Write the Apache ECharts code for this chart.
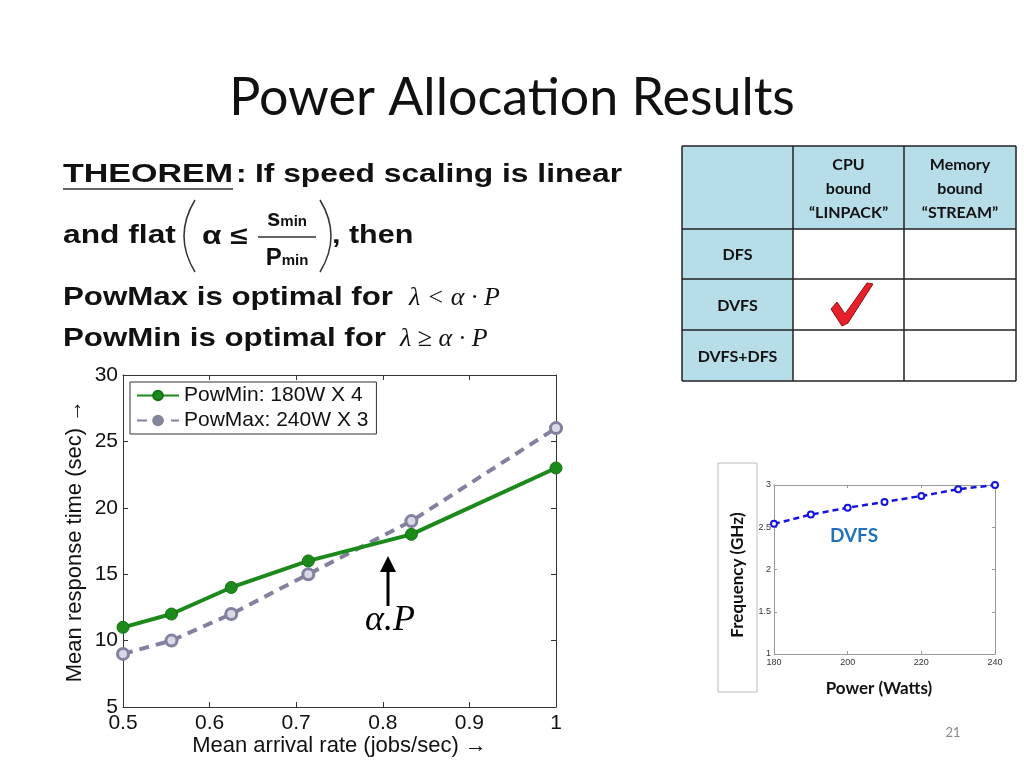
<!DOCTYPE html>
<html>
<head>
<meta charset="utf-8">
<title>Power Allocation Results</title>
<script src="https://cdn.jsdelivr.net/npm/echarts@6/dist/echarts.min.js"></script>
<style>
html,body{margin:0;padding:0;background:#fff;}
#slide{width:1024px;height:768px;}
</style>
</head>
<body>
<div id="slide"></div>
<script>
/* 主图：平均到达率 vs 平均响应时间 */
var arrivalRate = [0.5, 0.556, 0.625, 0.714, 0.833, 1.0];
var powMinTime = [11, 12, 14, 16, 18, 23];
var powMaxTime = [9, 10, 12, 15, 19, 26];
var seriesNames = ['PowMin: 180W X 4', 'PowMax: 240W X 3'];

/* 小图：功率 vs 频率 (DVFS) */
var powerWatts = [180, 190, 200, 210, 220, 230, 240];
var freqGHz = [2.54, 2.65, 2.73, 2.80, 2.87, 2.95, 3.0];

/* 表格 */
var tableCols = ['CPU\nbound\n\u201cLINPACK\u201d', 'Memory\nbound\n\u201cSTREAM\u201d'];
var tableRows = ['DFS', 'DVFS', 'DVFS+DFS'];

function pairs(xs, ys){
	var out = [];
	for (var i = 0; i < xs.length; i++) out.push([xs[i], ys[i]]);
	return out;
}

(function(){
	var myChart = echarts.init(document.getElementById('slide'));
	var sans = '"Liberation Sans", Arial, sans-serif';
	var cal = 'Lato, "Open Sans", sans-serif';
	var serif = '"Liberation Serif", "DejaVu Serif", serif';
	var tblFill = '#b7dde8';

	var g = [];
	// 标题
	g.push({type:'text', x:512, y:98, style:{text:'Power Allocation Results', font:'52px ' + cal, fill:'#111', align:'center', verticalAlign:'middle'}});

	// 定理文字（原图字体较宽，横向拉伸）
	var tf = 'bold 25px ' + sans;
	function say(txt, x, y, sx){
		g.push({type:'text', x:x, y:y, scaleX:sx || 1.27, style:{text:txt, font:tf, fill:'#111', verticalAlign:'middle'}});
	}
	say('THEOREM', 63, 175, 1.36);
	g.push({type:'line', shape:{x1:63, y1:189, x2:233, y2:189}, style:{stroke:'#333', lineWidth:1.5}});
	say(':', 236, 175);
	say('If speed scaling is linear', 255, 175);
	say('and flat', 63, 236);
	g.push({type:'bezierCurve', shape:{x1:195, y1:200, x2:195, y2:272, cpx1:173, cpy1:236}, style:{stroke:'#333', lineWidth:1.5, fill:null}});
	g.push({type:'bezierCurve', shape:{x1:320, y1:200, x2:320, y2:272, cpx1:342, cpy1:236}, style:{stroke:'#333', lineWidth:1.5, fill:null}});
	say('\u03b1 \u2264', 202, 237);
	g.push({type:'text', x:287, y:219, style:{text:'{a|s}{b|min}', align:'center', verticalAlign:'middle',
		rich:{a:{font:'bold 24px ' + sans, fill:'#111'}, b:{font:'bold 15px ' + sans, fill:'#111', padding:[6,0,0,0]}}}});
	g.push({type:'line', shape:{x1:258, y1:237, x2:316, y2:237}, style:{stroke:'#333', lineWidth:1.5}});
	g.push({type:'text', x:287, y:258, style:{text:'{a|P}{b|min}', align:'center', verticalAlign:'middle',
		rich:{a:{font:'bold 24px ' + sans, fill:'#111'}, b:{font:'bold 15px ' + sans, fill:'#111', padding:[6,0,0,0]}}}});
	say(', then', 332, 236, 1.22);
	say('PowMax is optimal for', 63, 298, 1.25);
	g.push({type:'text', x:409, y:298, style:{text:'\u03bb < \u03b1 \u00b7 P', font:'italic 26px ' + serif, fill:'#111', verticalAlign:'middle'}});
	say('PowMin is optimal for', 63, 339, 1.25);
	g.push({type:'text', x:400, y:339, style:{text:'\u03bb \u2265 \u03b1 \u00b7 P', font:'italic 26px ' + serif, fill:'#111', verticalAlign:'middle'}});

	// 表格
	var colX = [682, 793, 904, 1016];
	var rowY = [146, 229, 279, 330, 381];
	g.push({type:'rect', shape:{x:colX[0], y:rowY[0], width:colX[3]-colX[0], height:rowY[1]-rowY[0]}, style:{fill:tblFill}});
	g.push({type:'rect', shape:{x:colX[0], y:rowY[1], width:colX[1]-colX[0], height:rowY[4]-rowY[1]}, style:{fill:tblFill}});
	for (var i = 0; i < colX.length; i++) {
		g.push({type:'line', shape:{x1:colX[i], y1:rowY[0], x2:colX[i], y2:rowY[4]}, style:{stroke:'#222', lineWidth:1.5}});
	}
	for (var j = 0; j < rowY.length; j++) {
		g.push({type:'line', shape:{x1:colX[0], y1:rowY[j], x2:colX[3], y2:rowY[j]}, style:{stroke:'#222', lineWidth:1.5}});
	}
	tableCols.forEach(function(t, k){
		g.push({type:'text', x:(colX[k+1]+colX[k+2])/2, y:189, style:{text:t, font:'bold 16px ' + cal, fill:'#111', align:'center', verticalAlign:'middle', lineHeight:24}});
	});
	tableRows.forEach(function(t, k){
		g.push({type:'text', x:(colX[0]+colX[1])/2, y:(rowY[k+1]+rowY[k+2])/2 + 1, style:{text:t, font:'bold 16px ' + cal, fill:'#111', align:'center', verticalAlign:'middle'}});
	});
	// 对勾
	g.push({type:'polygon', shape:{points:[[831,309],[837,302],[845,314],[867,283],[873,284],[848,323],[842,326]]}, style:{fill:'#e8202a', stroke:'#8a1010', lineWidth:1, lineJoin:'round'}});

	// α.P 标注箭头
	g.push({type:'line', shape:{x1:388, y1:606, x2:388, y2:570}, style:{stroke:'#000', lineWidth:3}});
	g.push({type:'polygon', shape:{points:[[388,556],[380,572],[396,572]]}, style:{fill:'#000'}});
	g.push({type:'text', x:390, y:621, style:{text:'\u03b1.P', font:'italic 36px ' + serif, fill:'#000', align:'center', verticalAlign:'middle'}});

	// 小图的边框和文字
	g.push({type:'rect', shape:{x:718, y:463, width:39, height:229}, style:{fill:null, stroke:'#bbb', lineWidth:1}});
	g.push({type:'text', x:738, y:575, rotation:Math.PI/2, style:{text:'Frequency (GHz)', font:'bold 17px ' + cal, fill:'#111', align:'center', verticalAlign:'middle'}});
	g.push({type:'text', x:879, y:689, style:{text:'Power (Watts)', font:'bold 17px ' + cal, fill:'#111', align:'center', verticalAlign:'middle'}});
	g.push({type:'text', x:854, y:536, style:{text:'DVFS', font:'bold 19px ' + cal, fill:'#1f72bd', align:'center', verticalAlign:'middle'}});

	// 页码
	g.push({type:'text', x:953, y:733, style:{text:'21', font:'13px ' + cal, fill:'#888', align:'center', verticalAlign:'middle'}});

	var ticksIn = {inside:true, length:5, lineStyle:{color:'#333'}};
	var axisLineDark = {lineStyle:{color:'#333', width:1}};

	var option = {
		animation:false,
		backgroundColor:'#fff',
		textStyle:{fontFamily:sans},
		graphic:{elements:g},
		legend:{
			left:130, top:382,
			orient:'vertical',
			backgroundColor:'#fff',
			borderColor:'#333', borderWidth:1,
			padding:[3,8,3,6],
			itemWidth:42, itemHeight:12, itemGap:4,
			textStyle:{fontSize:21, color:'#111', fontFamily:sans},
			data:[
				{name:seriesNames[0]},
				{name:seriesNames[1], itemStyle:{color:'#85859a', borderColor:'#85859a'}}
			]
		},
		grid:[
			{left:123, top:375, width:433, height:332, show:false},
			{left:774, top:485, width:221, height:169, show:false}
		],
		xAxis:[
			{
				type:'value', gridIndex:0, min:0.5, max:1, interval:0.1,
				name:'Mean arrival rate (jobs/sec) \u2192', nameLocation:'middle', nameGap:28,
				nameTextStyle:{fontSize:22, color:'#111'},
				axisLine:axisLineDark, axisTick:ticksIn,
				axisLabel:{fontSize:21, color:'#111', margin:6},
				splitLine:{show:false}
			},
			{
				type:'value', gridIndex:0, position:'top', min:0.5, max:1, interval:0.1,
				axisLine:axisLineDark, axisTick:ticksIn, axisLabel:{show:false}, splitLine:{show:false}
			},
			{
				type:'value', gridIndex:1, min:180, max:240, interval:20,
				axisLine:{lineStyle:{color:'#999'}}, axisTick:{inside:true, length:3, lineStyle:{color:'#999'}},
				axisLabel:{fontSize:9, color:'#333', margin:4},
				splitLine:{show:false}
			},
			{
				type:'value', gridIndex:1, position:'top', min:180, max:240, interval:20,
				axisLine:{lineStyle:{color:'#999'}}, axisTick:{inside:true, length:3, lineStyle:{color:'#999'}},
				axisLabel:{show:false}, splitLine:{show:false}
			}
		],
		yAxis:[
			{
				type:'value', gridIndex:0, min:5, max:30, interval:5,
				name:'Mean response time (sec) \u2192', nameLocation:'middle', nameGap:37, nameRotate:90,
				nameTextStyle:{fontSize:22, color:'#111'},
				axisLine:axisLineDark, axisTick:ticksIn,
				axisLabel:{fontSize:21, color:'#111', margin:5},
				splitLine:{show:false}
			},
			{
				type:'value', gridIndex:0, position:'right', min:5, max:30, interval:5,
				axisLine:axisLineDark, axisTick:ticksIn, axisLabel:{show:false}, splitLine:{show:false}
			},
			{
				type:'value', gridIndex:1, min:1, max:3, interval:0.5,
				axisLine:{lineStyle:{color:'#999'}}, axisTick:{inside:true, length:3, lineStyle:{color:'#999'}},
				axisLabel:{fontSize:9, color:'#333', margin:3},
				splitLine:{show:false}
			},
			{
				type:'value', gridIndex:1, position:'right', min:1, max:3, interval:0.5,
				axisLine:{lineStyle:{color:'#999'}}, axisTick:{inside:true, length:3, lineStyle:{color:'#999'}},
				axisLabel:{show:false}, splitLine:{show:false}
			}
		],
		series:[
			{
				name:seriesNames[1],
				type:'line', xAxisIndex:0, yAxisIndex:0,
				symbol:'circle', symbolSize:11,
				itemStyle:{color:'#d8d8e6', borderColor:'#8282a0', borderWidth:3},
				lineStyle:{color:'#8282a0', width:4, type:[10,7]},
				data:pairs(arrivalRate, powMaxTime)
			},
			{
				name:seriesNames[0],
				type:'line', xAxisIndex:0, yAxisIndex:0,
				symbol:'circle', symbolSize:12,
				itemStyle:{color:'#1b8a1b', borderColor:'#137013', borderWidth:1},
				lineStyle:{color:'#1b8a1b', width:4},
				data:pairs(arrivalRate, powMinTime)
			},
			{
				name:'DVFS',
				type:'line', xAxisIndex:2, yAxisIndex:2,
				symbol:'emptyCircle', symbolSize:6,
				itemStyle:{color:'#1515e0', borderWidth:2},
				lineStyle:{color:'#1515e0', width:2.5, type:[6,4]},
				data:pairs(powerWatts, freqGHz)
			}
		]
	};
	myChart.setOption(option);
})();
</script>
</body>
</html>
